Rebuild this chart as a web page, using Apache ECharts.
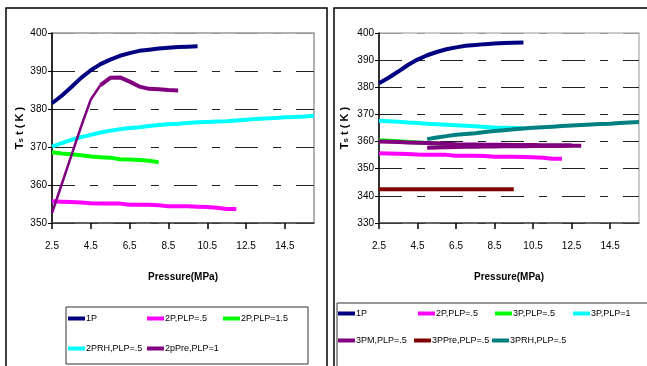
<!DOCTYPE html>
<html>
<head>
<meta charset="utf-8">
<script src="https://cdn.jsdelivr.net/npm/echarts@6/dist/echarts.min.js"></script>
<style>
  html, body { margin: 0; padding: 0; background: #fff; }
  #chart { width: 647px; height: 366px; }
</style>
</head>
<body>
<div id="chart"></div>
<script>
// pressure categories (MPa), step 0.5
var pressure = ['2.5','3','3.5','4','4.5','5','5.5','6','6.5','7','7.5','8','8.5','9','9.5','10',
  '10.5','11','11.5','12','12.5','13','13.5','14','14.5','15','15.5','16'];

// left panel
var p1 = [381.5, 383.5, 385.8, 388.2, 390.2, 391.8, 393.0, 394.0, 394.7, 395.3, 395.6, 395.9, 396.1, 396.3, 396.4, 396.5];
var p2plp05 = [355.7, 355.6, 355.5, 355.4, 355.2, 355.1, 355.1, 355.1, 354.8, 354.8, 354.8, 354.7, 354.4, 354.4, 354.4, 354.3, 354.2, 354.0, 353.7, 353.7];
var p2plp15 = [368.6, 368.3, 368.1, 367.8, 367.5, 367.3, 367.2, 366.8, 366.7, 366.6, 366.4, 366.0];
var p2rh = [370.1, 371.0, 371.9, 372.6, 373.2, 373.8, 374.3, 374.7, 375.0, 375.2, 375.5, 375.8, 376.0, 376.1,
  376.3, 376.5, 376.6, 376.7, 376.8, 377.0, 377.2, 377.4, 377.5, 377.6, 377.8, 377.9, 378.0, 378.2];
var p2preRise = [352.6, 360.2, 367.8, 375.4, 382.5, 386.3];        // 2.5 .. 5
var p2preTop = [386.3, 388.2, 388.3, 387.2, 385.9, 385.3, 385.2, 385.0, 384.9]; // 5 .. 9

// right panel
var p3plp05 = [360.5, 360.3, 360.1, 359.9, 359.7, 359.5, 359.3, 359.0, 358.8];
var p3plp1 = [367.7, 367.5, 367.3, 367.0, 366.8, 366.6, 366.4, 366.2, 366.0, 365.8, 365.6, 365.4, 365.2, 365.1, 365.0, 364.9];
var p3pmA = [360.0, 359.9, 359.8, 359.7, 359.6, 359.5, 359.4, 359.2, 359.0, 358.9, 358.9, 358.8, 358.8, 358.8,
  358.7, 358.7, 358.7, 358.6, 358.6, 358.6, 358.6];                   // 2.5 .. 12.5
var p3pmB = [357.7, 357.8, 357.9, 358.0, 358.1, 358.1, 358.2, 358.2, 358.3, 358.3, 358.3, 358.4, 358.4, 358.4,
  358.4, 358.5, 358.5];                                               // 5 .. 13
var p3pre = [342.4, 342.4, 342.4, 342.4, 342.4, 342.4, 342.4, 342.4, 342.4, 342.4, 342.4, 342.4, 342.4, 342.4, 342.4];
var p3rh = [360.9, 361.5, 362.0, 362.5, 362.8, 363.1, 363.5, 363.9, 364.2, 364.5, 364.8, 365.1, 365.3, 365.5,
  365.7, 365.9, 366.1, 366.3, 366.5, 366.6, 366.8, 367.0, 367.2];     // 5 .. 16

var leftTicks = [350, 400];
var rightTicks = [330, 400];

(function() {
  var font = '"Liberation Sans", Arial, sans-serif';

  // put values on the category axis, starting at given pressure
  function pad(start, vals) {
    var i0 = pressure.indexOf(start);
    return pressure.map(function(p, k) {
      var j = k - i0;
      return (j >= 0 && j < vals.length) ? vals[j] : null;
    });
  }

  function every4(index) { return index % 4 === 0; }

  function xAxis(idx) {
    return {
      type: 'category', gridIndex: idx, data: pressure, boundaryGap: false,
      name: 'Pressure(MPa)', nameLocation: 'middle', nameGap: 49,
      nameTextStyle: { fontFamily: font, fontSize: 10, fontWeight: 'bold', color: '#000' },
      axisLine: { show: true, lineStyle: { color: '#444', width: 1.5 } },
      axisTick: { show: true, inside: false, interval: every4, length: 6, lineStyle: { color: '#000', width: 1.5 } },
      axisLabel: { interval: every4, margin: 18, color: '#000', fontFamily: font, fontSize: 10 },
      splitLine: { show: false }
    };
  }

  function yAxis(idx, ticks, gap) {
    var n = (ticks[1] - ticks[0]) / 10;
    var colors = [];
    for (var i = 0; i < n; i++) colors.push('#222');
    colors.push('#999');
    return {
      type: 'value', gridIndex: idx, min: ticks[0], max: ticks[1], interval: 10,
      name: '{a|T}{b|s}{a| t ( K )}', nameLocation: 'middle', nameGap: gap,
      nameTextStyle: {
        rich: {
          a: { fontFamily: font, fontSize: 11, fontWeight: 'bold', color: '#000' },
          b: { fontFamily: font, fontSize: 8, fontWeight: 'bold', color: '#000', verticalAlign: 'bottom' }
        }
      },
      axisLine: { show: true, lineStyle: { color: '#000', width: 1.5 } },
      axisTick: { show: true, length: 4, lineStyle: { color: '#000' } },
      axisLabel: { color: '#000', fontFamily: font, fontSize: 10, margin: 5 },
      splitLine: { show: true, lineStyle: { color: colors, width: 1.2, type: [23, 15, 8, 15] } }
    };
  }

  function line(name, idx, start, vals, color, width) {
    return {
      name: name, type: 'line', xAxisIndex: idx, yAxisIndex: idx,
      data: pad(start, vals), showSymbol: false, symbol: 'none', connectNulls: false,
      lineStyle: { color: color, width: width || 4 }, itemStyle: { color: color },
      emphasis: { disabled: true }
    };
  }

  function legendItem(name, x, y) {
    return {
      data: [name], left: x, top: y, padding: 0, icon: 'rect',
      itemWidth: 17, itemHeight: 4, itemGap: 0,
      textStyle: { fontFamily: font, fontSize: 9, color: '#000', padding: [0, 0, 0, -4] }
    };
  }

  var chart = echarts.init(document.getElementById('chart'), null, { renderer: 'canvas' });
  chart.setOption({
    animation: false,
    backgroundColor: '#fff',
    grid: [
      { left: 52, top: 33, width: 262, height: 190, show: true, borderColor: '#999', borderWidth: 1.5, backgroundColor: '#fff' },
      { left: 379, top: 33, width: 260, height: 190, show: true, borderColor: '#bbb', borderWidth: 1.5, backgroundColor: '#fff' }
    ],
    xAxis: [xAxis(0), xAxis(1)],
    yAxis: [yAxis(0, leftTicks, 27), yAxis(1, rightTicks, 29)],
    legend: [
      legendItem('1P', 68, 314),
      legendItem('2P,PLP=.5', 147, 314),
      legendItem('2P,PLP=1.5', 223, 314),
      legendItem('2PRH,PLP=.5', 68, 344),
      legendItem('2pPre,PLP=1', 147, 344),
      legendItem('1P ', 338, 309),
      legendItem('2P,PLP=.5 ', 418, 309),
      legendItem('3P,PLP=.5', 495, 309),
      legendItem('3P,PLP=1', 573, 309),
      legendItem('3PM,PLP=.5', 338, 336),
      legendItem('3PPre,PLP=.5', 414, 336),
      legendItem('3PRH,PLP=.5', 492, 336)
    ],
    graphic: [
      { type: 'rect', shape: { x: 6, y: 8, width: 321, height: 364 }, style: { fill: 'none', stroke: '#000', lineWidth: 1.5 }, z: 100 },
      { type: 'rect', shape: { x: 334, y: 8, width: 320, height: 364 }, style: { fill: 'none', stroke: '#000', lineWidth: 1.5 }, z: 100 },
      { type: 'rect', shape: { x: 66, y: 307, width: 242, height: 57 }, style: { fill: 'none', stroke: '#333', lineWidth: 1 }, z: 100 },
      { type: 'rect', shape: { x: 337, y: 303, width: 320, height: 70 }, style: { fill: 'none', stroke: '#333', lineWidth: 1 }, z: 100 }
    ],
    series: [
      line('1P', 0, '2.5', p1, '#000080'),
      line('2P,PLP=.5', 0, '2.5', p2plp05, '#ff00ff'),
      line('2P,PLP=1.5', 0, '2.5', p2plp15, '#00ff00'),
      line('2PRH,PLP=.5', 0, '2.5', p2rh, '#00ffff'),
      line('2pPre,PLP=1', 0, '2.5', p2preRise, '#800080', 2.5),
      line('2pPre,PLP=1', 0, '5', p2preTop, '#800080', 4),

      line('1P ', 1, '2.5', p1, '#000080'),
      line('2P,PLP=.5 ', 1, '2.5', p2plp05, '#ff00ff'),
      line('3P,PLP=.5', 1, '2.5', p3plp05, '#00ff00'),
      line('3P,PLP=1', 1, '2.5', p3plp1, '#00ffff'),
      line('3PM,PLP=.5', 1, '2.5', p3pmA, '#800080'),
      line('3PM,PLP=.5', 1, '5', p3pmB, '#800080'),
      line('3PPre,PLP=.5', 1, '2.5', p3pre, '#800000'),
      line('3PRH,PLP=.5', 1, '5', p3rh, '#008080')
    ]
  });
})();
</script>
</body>
</html>
